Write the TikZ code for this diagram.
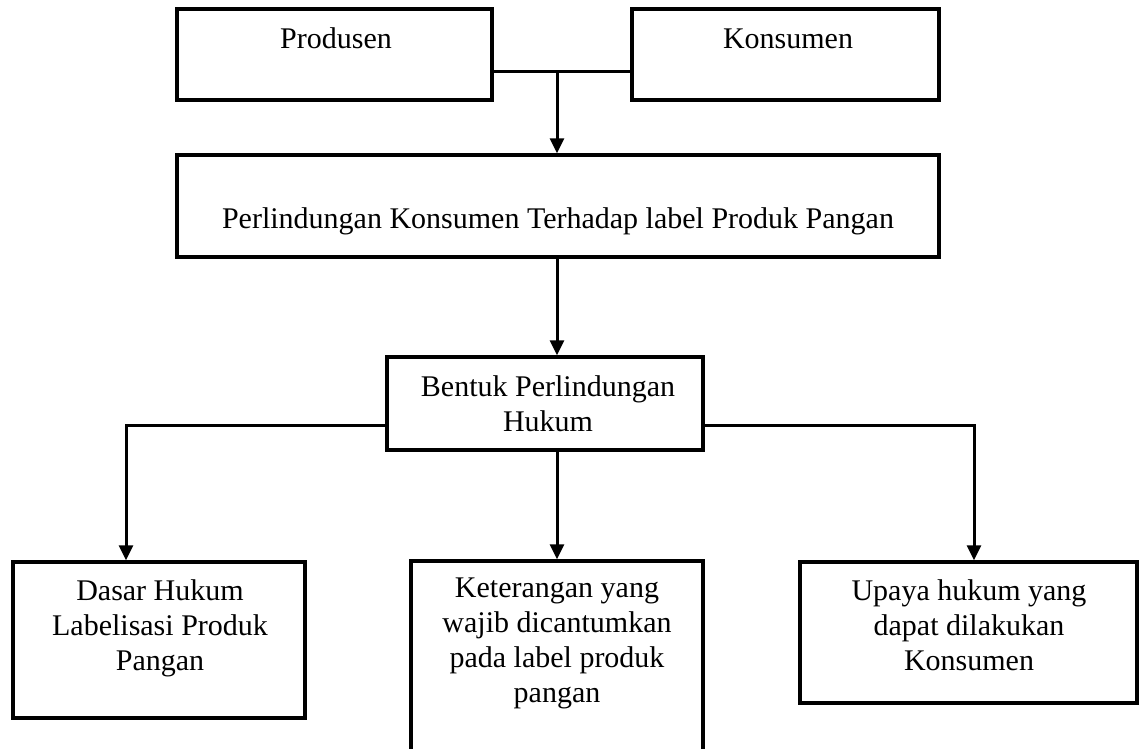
\documentclass[tikz,border=0pt]{standalone}
\usepackage{fontspec}
\setmainfont{Liberation Serif}
\usetikzlibrary{arrows.meta}
\begin{document}
\begin{tikzpicture}[x=1pt,y=-1pt,
  box/.style={draw=black,line width=3.5pt,rectangle,inner sep=0pt},
  txt/.style={inner sep=0pt,align=center,font=\fontsize{30}{35}\selectfont},
  conn/.style={line width=3pt},
  arr/.style={line width=3pt,-{Triangle[width=14pt,length=15pt]}}]
\useasboundingbox (0,0) rectangle (1140,748);
\clip (0,0) rectangle (1140,748);
\fill[white] (0,0) rectangle (1140,748);
% boxes
\node[box,minimum width=315pt,minimum height=91pt] (prod) at (334.5,54.5) {};
\node[box,minimum width=307pt,minimum height=91pt] (kons) at (785.5,54.5) {};
\node[box,minimum width=762pt,minimum height=102pt] (perl) at (558,206) {};
\node[box,minimum width=316pt,minimum height=93pt] (bent) at (545,403.5) {};
\node[box,minimum width=292pt,minimum height=156pt] (left) at (159,640) {};
\node[box,minimum width=292pt,minimum height=199pt] (mid) at (557,660.5) {};
\node[box,minimum width=337pt,minimum height=141pt] (right) at (968.5,632.5) {};
% texts
\node[txt,anchor=base] (tprod) at (336,48) {Produsen};
\node[txt,anchor=base] (tkons) at (788,48) {Konsumen};
\node[txt,anchor=base] (tperl) at (558,228) {Perlindungan Konsumen Terhadap label Produk Pangan};
\node[txt,anchor=north] (tbent) at (548,375) {Bentuk Perlindungan\\Hukum};
\node[txt,anchor=north] (tleft) at (160,579) {Dasar Hukum\\Labelisasi Produk\\Pangan};
\node[txt,anchor=north] (tmid) at (557,578) {Keterangan yang\\wajib dicantumkan\\pada label produk\\pangan};
\node[txt,anchor=north] (tright) at (969,579) {Upaya hukum yang\\dapat dilakukan\\Konsumen};
% connectors
\coordinate (j1) at (557,71);
\coordinate (cl) at (126,425);
\coordinate (cr) at (974,425);
\draw[conn] (prod.east |- j1) -- (kons.west |- j1);
\draw[arr] (j1) -- (perl.north -| j1);
\draw[arr] (perl.south -| j1) -- (bent.north -| j1);
\draw[arr] (bent.south -| j1) -- (mid.north -| j1);
\draw[arr] (bent.west |- cl) -- (cl) -- (left.north -| cl);
\draw[arr] (bent.east |- cr) -- (cr) -- (right.north -| cr);
\end{tikzpicture}
\end{document}
